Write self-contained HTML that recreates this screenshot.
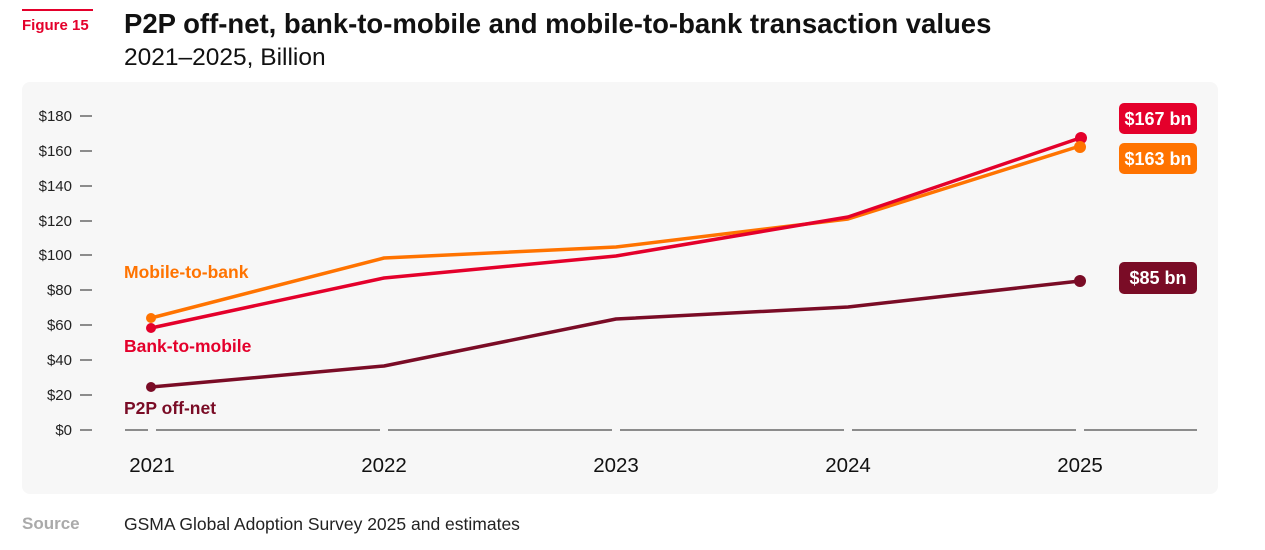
<!DOCTYPE html>
<html><head><style>
body{margin:0;width:1265px;height:550px;background:#fff;font-family:"Liberation Sans",sans-serif;position:relative;overflow:hidden}
.a{position:absolute;white-space:nowrap}
</style></head><body>
<div class="a" style="left:22px;top:9px;width:71px;height:2px;background:#e4002b"></div>
<div class="a" style="left:22px;top:17px;font-size:15px;font-weight:bold;color:#e4002b">Figure 15</div>
<div class="a" style="left:124px;top:8px;font-size:27.5px;font-weight:bold;color:#111">P2P off-net, bank-to-mobile and mobile-to-bank transaction values</div>
<div class="a" style="left:124px;top:44px;font-size:24.5px;color:#111">2021–2025, Billion</div>
<div class="a" style="left:22px;top:82px;width:1196px;height:412px;background:#f7f7f7;border-radius:8px"></div>
<svg class="a" style="left:0;top:0" width="1265" height="550">
<g font-size="15" fill="#222" text-anchor="end" font-family="Liberation Sans">
<text x="72" y="121">$180</text><text x="72" y="156">$160</text><text x="72" y="191">$140</text><text x="72" y="226">$120</text><text x="72" y="260">$100</text><text x="72" y="295">$80</text><text x="72" y="330">$60</text><text x="72" y="365">$40</text><text x="72" y="400">$20</text><text x="72" y="435">$0</text>
</g>
<g stroke="#222" stroke-width="1">
<line x1="80" x2="92" y1="116" y2="116"/><line x1="80" x2="92" y1="151" y2="151"/><line x1="80" x2="92" y1="186" y2="186"/><line x1="80" x2="92" y1="221" y2="221"/><line x1="80" x2="92" y1="255" y2="255"/><line x1="80" x2="92" y1="290" y2="290"/><line x1="80" x2="92" y1="325" y2="325"/><line x1="80" x2="92" y1="360" y2="360"/><line x1="80" x2="92" y1="395" y2="395"/><line x1="80" x2="92" y1="430" y2="430"/>
<line x1="125" x2="148" y1="430" y2="430"/><line x1="156" x2="380" y1="430" y2="430"/><line x1="388" x2="612" y1="430" y2="430"/><line x1="620" x2="844" y1="430" y2="430"/><line x1="852" x2="1076" y1="430" y2="430"/><line x1="1084" x2="1197" y1="430" y2="430"/>
</g>
<g font-size="20.5" fill="#111" text-anchor="middle">
<text x="152" y="472">2021</text><text x="384" y="472">2022</text><text x="616" y="472">2023</text><text x="848" y="472">2024</text><text x="1080" y="472">2025</text>
</g>
<g fill="none" stroke-width="3.5" stroke-linejoin="round">
<polyline stroke="#7a0c26" points="151,387 384,366 616,319 848,307 1080,281"/>
<polyline stroke="#ff7300" points="151,318 384,258 616,247 848,219 1080,146"/>
<polyline stroke="#e4002b" points="151,328 384,278 616,256 848,217 1080,138"/>
</g>
<circle cx="151" cy="387" r="5" fill="#7a0c26"/><circle cx="1080" cy="281" r="6" fill="#7a0c26"/>
<circle cx="151" cy="318" r="5" fill="#ff7300"/><circle cx="151" cy="328" r="5" fill="#e4002b"/>
<circle cx="1081" cy="138" r="6" fill="#e4002b"/><circle cx="1080" cy="147" r="6" fill="#ff7300"/>
<g font-size="17.5" font-weight="bold">
<text x="124" y="278" fill="#ff7300">Mobile-to-bank</text>
<text x="124" y="352" fill="#e4002b">Bank-to-mobile</text>
<text x="124" y="414" fill="#7a0c26">P2P off-net</text>
</g>
<rect x="1119" y="103" width="78" height="31" rx="5" fill="#e4002b"/>
<rect x="1119" y="143" width="78" height="31" rx="5" fill="#ff7300"/>
<rect x="1119" y="262" width="78" height="32" rx="5" fill="#7a0c26"/>
<g font-size="18" font-weight="bold" fill="#fff" text-anchor="middle">
<text x="1158" y="125">$167 bn</text><text x="1158" y="165">$163 bn</text><text x="1158" y="284">$85 bn</text>
</g>
</svg>
<div class="a" style="left:22px;top:514px;font-size:17px;font-weight:bold;color:#aaa">Source</div>
<div class="a" style="left:124px;top:514px;font-size:17.5px;color:#222">GSMA Global Adoption Survey 2025 and estimates</div>
</body></html>
